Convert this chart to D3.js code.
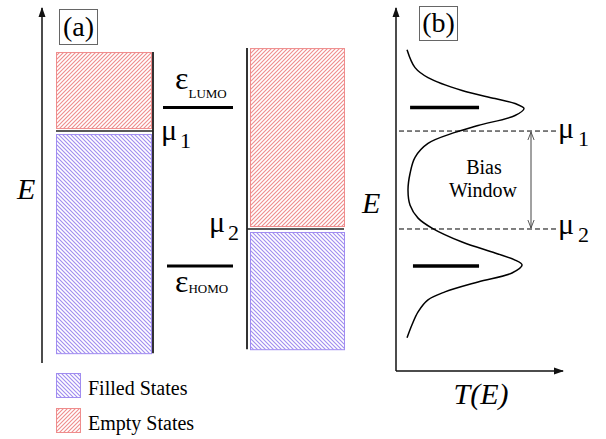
<!DOCTYPE html>
<html>
<head>
<meta charset="utf-8">
<script src="https://cdn.jsdelivr.net/npm/d3@7"></script>
<style>
  body { margin: 0; background: #fff; }
  svg text { font-family: "Liberation Serif", "DejaVu Serif", serif; fill: #000; }
</style>
</head>
<body>
<svg id="chart" width="606" height="439" font-family="Liberation Serif, DejaVu Serif, serif"></svg>
<script>
// energies in units where LUMO = +1, HOMO = -1
const levelNames = ["LUMO", "HOMO"];
const levelE = [1, -1];

// electrodes: chemical potential, band top and bottom
const muLabels = ["1", "2"];
const muE = [0.703, -0.533];
const bandTop = [1.70, 1.75];
const bandBottom = [-2.10, -2.05];

// transmission curve T(E)
const curveE = [1.730, 1.503, 1.377, 1.214, 1.113, 1.050, 0.987, 0.899, 0.774, 0.686,
                0.547, 0.371, 0.170, -0.044, -0.233, -0.396, -0.522, -0.698, -0.836,
                -0.925, -0.987, -1.088, -1.201, -1.327, -1.428, -1.579, -1.742, -1.906];
const curveT = [0.069, 0.119, 0.200, 0.413, 0.619, 0.744, 0.800, 0.744, 0.513, 0.369,
                0.200, 0.119, 0.088, 0.075, 0.088, 0.138, 0.225, 0.413, 0.619,
                0.744, 0.788, 0.725, 0.513, 0.306, 0.200, 0.138, 0.100, 0.069];

const legendLabels = ["Filled States", "Empty States"];

const svg = d3.select("#chart");

const yE = d3.scaleLinear().domain([-1, 1]).range([266, 107.5]);
const xT = d3.scaleLinear().domain([0, 1]).range([396, 556]);

const red = "#ef8c8c", blue = "#a08cf0";

// hatch patterns
const defs = svg.append("defs");
function hatch(id, color, dir) {
  const p = defs.append("pattern")
      .attr("id", id)
      .attr("patternUnits", "userSpaceOnUse")
      .attr("width", 4).attr("height", 4);
  p.append("rect")
      .attr("width", 4).attr("height", 4)
      .attr("fill", "#fff");
  p.append("path")
      .attr("d", dir > 0 ? "M-1,1 l2,-2 M0,4 l4,-4 M3,5 l2,-2"
                         : "M-1,3 l2,2 M0,0 l4,4 M3,-1 l2,2")
      .attr("fill", "none")
      .attr("stroke", color)
      .attr("stroke-width", 1.1);
}
hatch("emptyHatch", red, 1);
hatch("filledHatch", blue, -1);

defs.append("marker")
    .attr("id", "axisArrow")
    .attr("viewBox", "0 0 10 10")
    .attr("refX", 9).attr("refY", 5)
    .attr("markerWidth", 10).attr("markerHeight", 10)
    .attr("markerUnits", "userSpaceOnUse")
    .attr("orient", "auto")
  .append("path")
    .attr("d", "M0,1.5 L10,5 L0,8.5 Z")
    .attr("fill", "#111");
defs.append("marker")
    .attr("id", "openArrow")
    .attr("viewBox", "0 0 10 10")
    .attr("refX", 9).attr("refY", 5)
    .attr("markerWidth", 9).attr("markerHeight", 9)
    .attr("markerUnits", "userSpaceOnUse")
    .attr("orient", "auto-start-reverse")
  .append("path")
    .attr("d", "M0,1.5 L9,5 L0,8.5")
    .attr("fill", "none")
    .attr("stroke", "#444")
    .attr("stroke-width", 1);

function txt(g, x, y, size) {
  return g.append("text")
      .attr("x", x).attr("y", y)
      .attr("font-family", "Liberation Serif, DejaVu Serif, serif")
      .attr("font-size", size);
}

// ---------------- panel (a) ----------------
const gA = svg.append("g");

gA.append("line")
    .attr("x1", 42).attr("x2", 42)
    .attr("y1", yE(-2.224)).attr("y2", 8)
    .attr("stroke", "#111").attr("stroke-width", 1.5)
    .attr("marker-end", "url(#axisArrow)");

txt(gA, 17, 199, 30).attr("font-style", "italic").text("E");

gA.append("rect")
    .attr("x", 59.5).attr("y", 9.5).attr("width", 38).attr("height", 35)
    .attr("fill", "none").attr("stroke", "#666").attr("stroke-width", 1);
txt(gA, 78.5, 36, 28).attr("text-anchor", "middle").text("(a)");

// electrode columns: [x0, x1, x of the black side line]
const cols = [[56, 151, 153], [250, 344, 247]];
const gap = 3;

cols.forEach((c, i) => {
  const g = gA.append("g");
  g.append("rect")
      .attr("x", c[0] + 0.5).attr("width", c[1] - c[0])
      .attr("y", yE(bandTop[i]) + 0.5)
      .attr("height", yE(muE[i]) - gap - yE(bandTop[i]))
      .attr("fill", "url(#emptyHatch)").attr("stroke", red).attr("stroke-width", 1);
  g.append("rect")
      .attr("x", c[0] + 0.5).attr("width", c[1] - c[0])
      .attr("y", yE(muE[i]) + gap + 0.5)
      .attr("height", yE(bandBottom[i]) - yE(muE[i]) - gap)
      .attr("fill", "url(#filledHatch)").attr("stroke", blue).attr("stroke-width", 1);
  g.append("line")
      .attr("x1", c[2]).attr("x2", c[2])
      .attr("y1", yE(bandTop[i])).attr("y2", yE(bandBottom[i]))
      .attr("stroke", "#333").attr("stroke-width", 2);
  g.append("line")
      .attr("x1", Math.min(c[0], c[2])).attr("x2", Math.max(c[1], c[2]))
      .attr("y1", yE(muE[i])).attr("y2", yE(muE[i]))
      .attr("stroke", "#222").attr("stroke-width", 1.5);
});

// molecular levels in (a)
const levelX = [[163, 233], [167, 233]];
levelE.forEach((e, i) => {
  gA.append("line")
      .attr("x1", levelX[i][0]).attr("x2", levelX[i][1])
      .attr("y1", yE(e)).attr("y2", yE(e))
      .attr("stroke", "#000").attr("stroke-width", 3);
  const t = txt(gA, 175, i === 0 ? yE(e) - 19 : yE(e) + 26, 32);
  t.append("tspan").text("ε");
  t.append("tspan").attr("dy", i === 0 ? 9 : 1).attr("font-size", 13).text(levelNames[i]);
});

// mu labels in (a)
const muLabelPos = [[161, 140], [209, 232]];
muE.forEach((m, i) => {
  const t = txt(gA, muLabelPos[i][0], muLabelPos[i][1], 30);
  t.append("tspan").text("μ");
  t.append("tspan").attr("dx", 3).attr("dy", 8).attr("font-size", 22).text(muLabels[i]);
});

// legend
const legendFill = ["url(#filledHatch)", "url(#emptyHatch)"];
const legendStroke = [blue, red];
legendLabels.forEach((l, i) => {
  const y = 373 + i * 35;
  gA.append("rect")
      .attr("x", 56.5).attr("y", y + 0.5).attr("width", 24).attr("height", 24)
      .attr("fill", legendFill[i]).attr("stroke", legendStroke[i]);
  txt(gA, 88, y + 22, 20).text(l);
});

// ---------------- panel (b) ----------------
const gB = svg.append("g");

gB.append("line")
    .attr("x1", xT(0)).attr("x2", xT(0))
    .attr("y1", yE(-2.325)).attr("y2", 8)
    .attr("stroke", "#111").attr("stroke-width", 1.5)
    .attr("marker-end", "url(#axisArrow)");
gB.append("line")
    .attr("x1", xT(0)).attr("x2", 563)
    .attr("y1", yE(-2.325)).attr("y2", yE(-2.325))
    .attr("stroke", "#111").attr("stroke-width", 1.5)
    .attr("marker-end", "url(#axisArrow)");

txt(gB, 362, 213, 30).attr("font-style", "italic").text("E");
txt(gB, 481, 404, 30).attr("font-style", "italic").attr("text-anchor", "middle").text("T(E)");

gB.append("rect")
    .attr("x", 419.5).attr("y", 6.5).attr("width", 38).attr("height", 34)
    .attr("fill", "none").attr("stroke", "#666").attr("stroke-width", 1);
txt(gB, 438.5, 32, 28).attr("text-anchor", "middle").text("(b)");

// bias window dashed lines
muE.forEach((m, i) => {
  gB.append("line")
      .attr("x1", 399).attr("x2", 556)
      .attr("y1", yE(m)).attr("y2", yE(m))
      .attr("stroke", "#000").attr("stroke-width", 1)
      .attr("stroke-dasharray", "5,3");
  const t = txt(gB, 558, i === 0 ? 138 : 234, 30);
  t.append("tspan").text("μ");
  t.append("tspan").attr("dx", 4).attr("dy", 8).attr("font-size", 22).text(muLabels[i]);
});

gB.append("line")
    .attr("x1", 531).attr("x2", 531)
    .attr("y1", yE(muE[0]) + 1).attr("y2", yE(muE[1]) - 1)
    .attr("stroke", "#444").attr("stroke-width", 1)
    .attr("marker-start", "url(#openArrow)")
    .attr("marker-end", "url(#openArrow)");

txt(gB, 484, 174, 20).attr("text-anchor", "middle").text("Bias");
txt(gB, 483, 197, 20).attr("text-anchor", "middle").text("Window");

// level bars in (b)
const barT = [[0.088, 0.519], [0.106, 0.519]];
levelE.forEach((e, i) => {
  gB.append("line")
      .attr("x1", xT(barT[i][0])).attr("x2", xT(barT[i][1]))
      .attr("y1", yE(e)).attr("y2", yE(e))
      .attr("stroke", "#000").attr("stroke-width", 3.5);
});

const pts = curveE.map((e, i) => ({E: e, T: curveT[i]}));
const line = d3.line()
    .x(d => xT(d.T))
    .y(d => yE(d.E))
    .curve(d3.curveCatmullRom);
gB.append("path")
    .attr("d", line(pts))
    .attr("fill", "none")
    .attr("stroke", "#000")
    .attr("stroke-width", 1.5);
</script>
</body>
</html>
